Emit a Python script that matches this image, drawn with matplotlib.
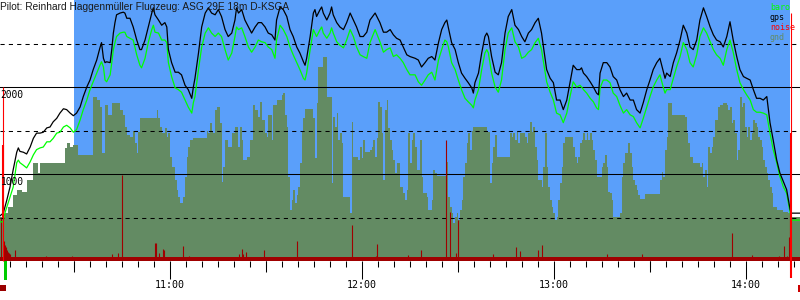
import numpy as np
import matplotlib
matplotlib.use("Agg")
import matplotlib.pyplot as plt
from matplotlib.patches import Rectangle

# time axis: minutes after 10:00, heights in metres
title = "Pilot: Reinhard Haggenmüller Flugzeug: ASG 29E 18m D-KSGA"
t_start, t_end = 6.875, 256.875
sky_start, sky_end = 30.0, 253.8

track_min = [
    6.9, 7.9, 8.4, 9.0, 10.0, 11.0, 12.1, 12.6, 13.1, 14.2, 15.2, 16.3, 17.3, 18.3, 19.4, 20.4, 21.5, 22.5,
    23.5, 24.6, 25.6, 26.7, 27.7, 28.8, 29.8, 30.8, 31.9, 32.9, 34.0, 35.0, 36.0, 37.1, 38.1, 38.6, 39.2,
    39.7, 40.2, 41.3, 41.8, 42.3, 42.8, 43.3, 44.4, 45.4, 45.9, 46.5, 47.5, 48.5, 49.6, 50.6,
    51.1, 52.2, 53.2, 54.3, 54.8, 55.3, 56.4, 57.4, 58.4, 59.0, 59.5, 60.5, 61.6, 62.6, 63.6, 64.7, 65.7,
    66.8, 67.3, 67.8, 68.9, 69.9, 71.0, 72.0, 73.0, 74.1, 75.1, 76.1, 77.2, 78.2, 79.3, 80.3, 80.8, 81.4,
    82.4, 83.4, 84.5, 85.5, 86.6, 87.6, 88.6, 89.7, 90.7, 91.8, 92.8,
    93.3, 94.4, 95.4, 96.5, 97.5, 98.5, 99.6, 100.6, 101.7, 102.2, 102.7, 103.8, 104.8, 105.3, 105.8,
    106.9, 107.4, 107.9, 109.0, 110.0, 110.5, 111.0, 112.1, 113.1, 114.2, 115.2, 116.3, 117.3, 118.3,
    119.4, 120.4, 121.5, 122.5, 124.1, 125.6, 126.7, 127.7, 128.8, 129.8, 130.8, 131.9, 132.9, 134.0, 135.0,
    136.6, 137.6, 138.6, 139.7, 140.7, 141.8, 142.8, 143.9, 144.9, 145.9, 146.5, 147.0, 148.0, 149.1,
    150.1, 151.1, 152.2, 153.2, 154.3, 154.8, 155.3, 156.4, 157.4, 158.4, 159.0, 159.5, 160.5, 161.6,
    162.6, 163.6, 164.7, 165.7, 166.8, 167.8, 168.9, 169.9, 170.9, 172.0, 173.0, 174.1, 175.1, 176.1,
    177.7, 178.8, 179.8, 180.8, 181.9, 182.9, 184.0, 185.0, 186.0, 187.1, 188.1, 188.6, 189.2, 190.2,
    191.3, 192.3, 193.3, 193.9, 194.4, 195.4, 196.5, 197.5, 198.5, 199.6, 200.6, 201.7, 202.7, 203.8,
    204.8, 205.8, 206.9, 207.9, 209.0, 210.0, 211.0, 212.1, 213.1, 214.2, 214.7, 215.2, 216.3, 217.3,
    218.3, 219.4,
    220.4, 221.5, 222.5, 223.5, 224.6, 225.6, 226.7, 227.7, 228.8, 229.8, 230.8, 231.9, 232.9, 234.0,
    235.0, 236.0, 237.1, 238.1, 239.2, 240.2, 241.3, 242.3, 243.3, 244.4, 245.4, 246.5, 247.5, 248.5,
    249.6, 250.6, 251.7, 252.7, 253.8, 254.2, 256.9]

gps_alt = [
    520, 550, 620, 700, 850, 1050, 1250, 1300, 1260, 1250, 1230, 1310, 1410, 1470, 1470, 1480, 1530, 1540,
    1600, 1640, 1700, 1750, 1740, 1700, 1670, 1700, 1770, 1890, 2000, 2080, 2200, 2310, 2450, 2510, 2330,
    2280, 2290, 2280, 2430, 2620, 2740, 2830, 2850, 2860, 2850, 2790, 2790, 2690, 2540, 2430,
    2430, 2540, 2690, 2850, 2910, 2830, 2770, 2710, 2740, 2690, 2430, 2280, 2170, 2170, 2140, 2020, 1970,
    1870, 2000, 2100, 2390, 2690, 2850, 2910, 2850, 2830, 2890, 2810, 2660, 2580, 2620, 2770, 2910, 2850,
    2890, 2770, 2690, 2620, 2690, 2740, 2740, 2690, 2620, 2600, 2540,
    2770, 2920, 2890, 2810, 2660, 2580, 2460, 2390, 2290, 2250, 2330, 2580, 2850, 2890, 2810,
    2890, 2920, 2850, 2770, 2850, 2920, 2830, 2740, 2690, 2660, 2740, 2850, 2770, 2690,
    2580, 2580, 2630, 2770, 2850, 2740, 2630, 2630, 2660, 2600, 2560, 2540, 2460, 2370, 2350,
    2330, 2310, 2230, 2280, 2330, 2350, 2310, 2510, 2660, 2740, 2770, 2680, 2510, 2430,
    2280, 2160, 2100, 2050, 1990, 1930, 2050, 2160, 2390, 2580, 2620, 2580, 2350, 2170,
    2140, 2280, 2620, 2810, 2890, 2710, 2660, 2580, 2520, 2620, 2660, 2740, 2790, 2620,
    2200, 2100, 2050, 1850, 1850, 1740, 1850, 2050, 2250, 2200, 2200, 2220, 2160, 2120,
    2060, 2000, 1930, 1910, 2160, 2280, 2280, 2230, 2120, 2080, 1970, 1890, 1930, 1850,
    1850, 1740, 1700, 1820, 1970, 2080, 2200, 2280, 2330, 2170, 2100, 2160, 2120, 2280,
    2390, 2540,
    2710, 2620, 2460, 2430, 2540, 2770, 2910, 2810, 2690, 2600, 2540, 2520, 2460, 2580,
    2750, 2540, 2350, 2200, 2120, 2100, 2080, 1970, 1870, 1870, 1850, 1890, 1590, 1390,
    1160, 1010, 910, 820, 590, 550, 550]

baro_alt = [
    450, 450, 550, 620, 740, 850, 1130, 1160, 1130, 1100, 1070, 1140, 1220, 1280, 1300, 1310, 1370, 1370,
    1410, 1470, 1480, 1540, 1560, 1530, 1480, 1510, 1620, 1740, 1850, 1970, 2060, 2160, 2250, 2290, 2230,
    2080, 2060, 2140, 2280, 2430, 2510, 2580, 2620, 2630, 2630, 2580, 2560, 2540, 2370, 2250,
    2220, 2330, 2510, 2660, 2710, 2630, 2620, 2540, 2540, 2510, 2280, 2120, 1990, 1970, 1940, 1850, 1770,
    1700, 1820, 1890, 2200, 2460, 2620, 2680, 2620, 2580, 2620, 2580, 2430, 2310, 2390, 2580, 2690, 2660,
    2680, 2580, 2460, 2400, 2460, 2540, 2520, 2510, 2460, 2430, 2330,
    2540, 2710, 2660, 2580, 2460, 2370, 2280, 2200, 2100, 2080, 2160, 2430, 2660, 2620, 2580,
    2660, 2690, 2620, 2560, 2620, 2680, 2620, 2520, 2480, 2450, 2540, 2660, 2580, 2460,
    2370, 2350, 2330, 2510, 2660, 2520, 2400, 2430, 2450, 2350, 2370, 2330, 2280, 2200, 2140,
    2140, 2060, 2020, 2080, 2140, 2170, 2080, 2310, 2430, 2540, 2520, 2460, 2280, 2200,
    2080, 1970, 1870, 1830, 1790, 1760, 1850, 1970, 2200, 2390, 2430, 2390, 2160, 2000,
    1940, 2080, 2430, 2620, 2680, 2520, 2460, 2330, 2350, 2400, 2430, 2510, 2560, 2430,
    2060, 1940, 1850, 1700, 1680, 1590, 1700, 1890, 2060, 2000, 2020, 2000, 1970, 1930,
    1870, 1830, 1760, 1740, 1990, 2080, 2080, 2050, 1930, 1890, 1790, 1700, 1740, 1680,
    1660, 1590, 1530, 1640, 1770, 1890, 2000, 2080, 2140, 1990, 1930, 1970, 1970, 2100,
    2230, 2350,
    2510, 2430, 2280, 2230, 2370, 2580, 2680, 2620, 2520, 2430, 2370, 2330, 2250, 2430,
    2540, 2400, 2200, 2050, 1970, 1910, 1850, 1740, 1710, 1710, 1700, 1680, 1470, 1280,
    1130, 970, 850, 780, 550, 470, 470]

gnd_min = [
    6.9, 8.4, 9.4, 10.9, 12.2, 13.8, 15.3, 17.2, 18.8, 19.4, 27.2, 27.8, 28.8, 29.7, 31.3, 35.9, 37.2, 38.1,
    38.8, 39.7, 40.6, 41.9, 44.4, 45.3, 45.9, 46.6, 47.5, 48.4, 49.1, 49.7, 50.0, 50.6, 55.9, 56.3, 56.9,
    57.5, 58.4, 59.1, 59.4, 60.0, 60.6, 61.6, 62.2, 62.5, 63.1, 64.1, 64.7, 65.3, 65.6, 66.3, 67.2, 71.6,
    71.9, 72.5, 73.1, 73.4, 74.1, 74.7, 75.6, 76.3, 76.6, 77.2, 78.1, 79.4, 80.3, 81.3, 81.9, 82.5, 82.8,
    84.1, 85.0, 85.9, 86.6, 87.5, 88.1, 88.8, 89.7, 90.3, 90.6, 91.9, 92.2, 93.4, 95.0, 95.3, 95.9, 96.6,
    96.9, 97.5, 98.1, 98.4, 99.1, 99.7, 100.0, 100.6, 101.3, 101.6, 102.2, 104.7, 105.3, 105.9, 106.3,
    107.8, 109.1, 110.6, 110.9, 111.6, 112.2, 112.5, 113.1, 113.8, 114.1, 116.3, 116.9, 117.2, 118.8,
    119.4, 120.0, 120.3, 120.9, 122.5, 123.1, 123.4, 124.1, 124.7, 125.0, 125.6, 126.3, 126.6, 127.2,
    127.8, 128.1, 128.8, 129.4, 129.7, 130.3, 130.9, 131.9, 132.8, 133.4, 134.1, 134.4, 135.0, 135.6,
    135.9, 136.6, 137.2, 138.1, 138.8, 139.1, 140.3, 140.6, 141.9, 142.2, 142.8, 143.4, 146.6, 146.9,
    147.5, 148.1, 148.4, 149.1, 149.7, 150.0, 150.6, 151.3, 151.6, 152.2, 152.8, 153.1, 153.8, 154.4,
    154.7, 159.1, 160.0, 160.6, 160.9, 161.6, 162.2, 166.3, 166.9, 167.2, 167.8, 168.4, 168.8, 169.4,
    170.9, 171.6, 171.9, 172.5, 173.1, 173.4, 174.1, 174.7, 175.0, 176.3, 176.6, 177.2, 177.8, 178.1,
    178.8, 179.4, 179.7, 180.3, 180.9, 181.3, 181.9, 182.5, 182.8, 183.4, 185.9, 186.6, 187.2, 187.5,
    188.1, 188.8, 189.1, 189.7, 190.3, 190.6, 191.3, 191.9, 192.2, 192.8, 193.4, 195.0, 195.3, 195.9,
    196.6, 196.9, 197.5, 198.1, 198.4, 200.6, 201.3, 201.6, 202.2, 203.1, 203.8, 204.4, 204.7, 205.3,
    205.9, 206.3, 206.9, 208.4, 213.1, 213.8, 214.1, 214.7, 215.3, 215.6, 216.9, 220.9, 221.6, 221.9,
    222.5, 223.4, 225.6, 226.3, 226.6, 227.2, 227.8, 228.1, 228.8, 229.4, 229.7, 230.3, 231.3, 231.9,
    232.8, 234.1, 234.4, 235.0, 235.6, 235.9, 236.6, 237.2, 237.5, 238.1, 238.8, 239.1, 239.7, 240.3,
    240.6, 241.3, 241.9, 242.2, 242.8, 243.4, 243.8, 244.4, 245.0, 245.3, 245.9, 246.6, 246.9, 247.5,
    248.1, 248.4, 249.7, 251.6, 253.1, 253.8]

gnd_alt = [
    510, 550, 620, 760, 820, 790, 930, 1130, 1010, 1130, 1300, 1360, 1310, 1330, 1220, 1890, 1850, 1770,
    1240, 1790, 1680, 1820, 1740, 1680, 1540, 1450, 1430, 1500, 1360, 1240, 1480, 1640, 1740, 1640, 1540,
    1470, 1530, 1430, 1470, 1200, 1080, 930, 820, 740, 670, 740, 970, 1200, 1310, 1390, 1410, 1500,
    1470, 1590, 1500, 1470, 1740, 1770, 1590, 910, 1080, 1390, 1310, 1470, 1540, 1310, 1540, 1390, 1160,
    1200, 1390, 1790, 1740, 1660, 1830, 1620, 1470, 1430, 1680, 1390, 1790, 1850, 1910, 1930, 1680, 1540,
    970, 590, 700, 820, 670, 760, 850, 1130, 1500, 1640, 1750, 1640, 1180, 1820, 2230,
    2350, 1890, 900, 1660, 1540, 1700, 1390, 1470, 1360, 740, 550, 1600, 1200, 1160,
    1310, 1180, 1390, 1250, 1280, 1310, 1390, 1200, 1410, 1830, 1770, 1470, 930, 1740,
    1850, 1530, 1390, 1280, 1160, 1010, 1130, 850, 780, 700, 820, 1470, 1130, 1390,
    1470, 1310, 1050, 1390, 970, 780, 740, 590, 700, 1050, 1010, 980, 1140, 740,
    620, 550, 440, 510, 550, 470, 590, 700, 970, 1130, 1360, 1470, 1280, 1500,
    1540, 1480, 900, 1130, 1310, 1450, 1200, 1470, 1430, 1470, 1390, 1480, 1360, 1470,
    1430, 1360, 1470, 1600, 1480, 1540, 1310, 1160, 930, 850, 1080, 1470, 1080, 850,
    700, 620, 550, 470, 510, 700, 900, 1080, 1360, 1430, 1310, 1200, 1130, 1200,
    1360, 1390, 1470, 1390, 1470, 1390, 1470, 1390, 1280, 1160, 970, 1080, 1130, 1220,
    1080, 790, 780, 700, 510, 550, 970, 1130, 1240, 1360, 1240, 1080, 930, 870,
    820, 760, 710, 770, 930, 1020, 970, 1280, 1430, 1820, 1680, 1660, 1470, 1360,
    1200, 1130, 1080, 1130, 970, 1050, 850, 1310, 1240, 1310, 1430, 1620, 1770, 1790,
    1820, 1790, 1740, 1770, 1590, 1620, 1470, 1160, 1280, 1890, 1770, 1820, 1540, 1430,
    1540, 1390, 1470, 1620, 1590, 1540, 1430, 1390, 1310, 1160, 1080, 1010, 930, 850,
    780, 620, 590, 560, 550, 510]

noise_min = [7.2, 8.1, 8.4, 8.8, 9.1, 9.4, 9.7, 10.0, 11.6, 21.3, 29.4, 41.9, 43.8, 45.0, 55.3, 55.6, 56.6,
             57.8, 58.1, 64.1, 65.9, 81.6, 82.5, 82.8, 83.8, 89.4, 99.7, 116.9, 124.4, 124.7, 134.4, 138.4,
             146.3, 147.5, 149.4, 150.0, 161.0, 168.1, 169.4, 175.0, 176.3, 196.6, 207.5, 235.6, 241.9,
             250.3, 251.9, 252.8, 253.4, 253.8]
noise_lvl = [500, 230, 180, 160, 130, 100, 90, 80, 130, 60, 60, 80, 90, 990, 210, 210, 90,
             140, 130, 170, 60, 80, 140, 80, 100, 130, 230, 410, 60, 190, 70, 130,
             1390, 560, 90, 470, 80, 160, 120, 130, 180, 80, 80, 320, 70,
             60, 170, 60, 280, 550]
noise_floor = 50

BLUE = '#5a9ffa'
OLIVE = '#638b63'
DARKRED = '#a00000'
LIME = '#00ff00'

fig = plt.figure(figsize=(8, 3), dpi=100)
ax = fig.add_axes([0, 39 / 300, 1, 261 / 300])
ax.set_xlim(t_start, t_end)
ax.set_ylim(0, 3000)
for s in ax.spines.values():
    s.set_visible(False)

ax.axvspan(sky_start, sky_end, color=BLUE, lw=0, zorder=0.5)
ax.stairs(gnd_alt, gnd_min + [t_end], baseline=0, fill=True, color=OLIVE, lw=0, zorder=1)

for h in [500, 1500, 2500]:
    ax.axhline(h, color='k', lw=0.75, ls=(0, (4, 4)), zorder=2)
for h in [1000, 2000]:
    ax.axhline(h, color='k', lw=0.75, zorder=2)
    ax.annotate(str(h), (t_start, h), xytext=(0.5, -7.6), textcoords='offset points',
                va='baseline', ha='left', fontsize=6.9, family='DejaVu Sans Mono', zorder=7)

# noise
ax.fill_between([t_start, t_end], 0, noise_floor, color=DARKRED, lw=0, zorder=3)
ax.vlines(noise_min, 0, noise_lvl, color=DARKRED, lw=0.8, zorder=3)

ax.plot(track_min, baro_alt, color=LIME, lw=0.9, zorder=4)
ax.plot(track_min, gps_alt, color='k', lw=0.9, zorder=5)

# start / finish markers
ax.vlines(7.95, 0, 2000, color='#ff0000', lw=0.8, zorder=6, clip_on=False)
ax.vlines(7.7, 500, 1330, color='#ff0000', lw=1.5, zorder=6)
ax.vlines(254.0, 1470, 2850, color='#ff0000', lw=0.8, zorder=6, clip_on=False)
ax.vlines(254.1, -195, 1470, color='#ff0000', lw=1.5, zorder=6, clip_on=False)
ax.add_patch(Rectangle((8.1, -219), 1.0, 219, color='#00cc00', lw=0, clip_on=False))
ax.add_patch(Rectangle((6.875, -345), 1.9, 70, color='#990000', lw=0, clip_on=False))
ax.add_patch(Rectangle((256.25, -355), 0.7, 80, color='#cc0000', lw=0, clip_on=False))

# time axis
hours = [60, 120, 180, 240]
ax.set_xticks(hours)
ax.set_xticklabels(["%d:00" % (10 + h // 60) for h in hours], family='DejaVu Sans Mono', fontsize=7.2)
ax.set_xticks(np.arange(10, 257, 5), minor=True)
ax.tick_params(axis='x', which='major', direction='out', length=12.6, width=0.75, pad=1.0, colors='k')
ax.tick_params(axis='x', which='minor', direction='out', length=4.3, width=0.75)
ax.vlines([30, 90, 150, 210], -126, 0, color='k', lw=0.75, clip_on=False)
ax.set_yticks([])

fig.text(0.0, 1 - 1.5 / 300, title, va='top', ha='left', fontsize=7.3,
         family='Liberation Sans', color='#1a1a1a')
for i, (lab, col) in enumerate([('baro', LIME), ('gps', 'k'), ('noise', '#ff0000'), ('gnd', OLIVE)]):
    fig.text(770 / 800, 1 - (10 + 10 * i) / 300, lab, va='baseline', ha='left', fontsize=6,
             family='DejaVu Sans Mono', color=col)

fig.savefig('out.png', dpi=100)
